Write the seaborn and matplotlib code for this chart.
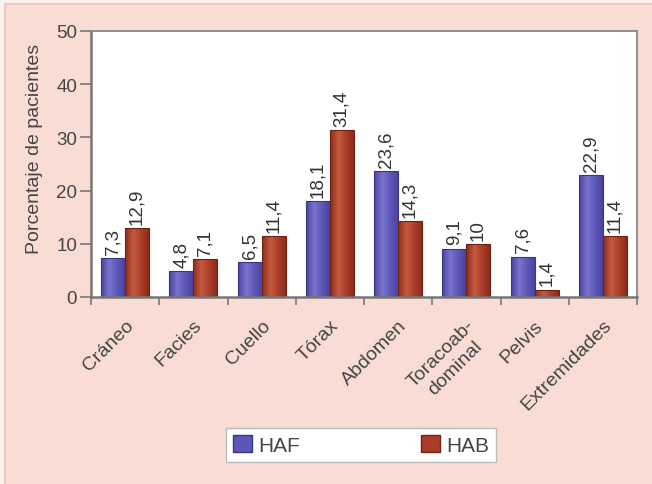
import matplotlib
matplotlib.use("Agg")
import matplotlib.pyplot as plt
import matplotlib.patches as mpatches
from matplotlib.colors import LinearSegmentedColormap
import numpy as np
import seaborn as sns
import pandas as pd

categorias = ["Cráneo", "Facies", "Cuello", "Tórax", "Abdomen",
              "Toracoab-\ndominal", "Pelvis", "Extremidades"]
haf = [7.3, 4.8, 6.5, 18.1, 23.6, 9.1, 7.6, 22.9]
hab = [12.9, 7.1, 11.4, 31.4, 14.3, 10.0, 1.4, 11.4]
series = ["HAF", "HAB"]
colores = {"HAF": "#5c56b8", "HAB": "#a93c28"}
bordes = {"HAF": "#3a3580", "HAB": "#6e2214"}
# Shading across each bar: darker edges, lighter centre
sombreado = {
    "HAF": ["#4a449f", "#7a74cf", "#5b55b6", "#4a449f"],
    "HAB": ["#8c2c1c", "#c45a3e", "#a93c28", "#8c2c1c"],
}

df = pd.DataFrame({
    "Región": categorias * 2,
    "Porcentaje": haf + hab,
    "Grupo": ["HAF"] * len(categorias) + ["HAB"] * len(categorias),
})

sns.set_theme(style="white")
plt.rcParams["font.family"] = ["Liberation Sans", "DejaVu Sans"]

texto = "#454545"
fondo = "#f9ddd5"
fig = plt.figure(figsize=(6.52, 4.85), dpi=100, facecolor="#fbf1ee")
fig.patches.append(mpatches.Rectangle((5 / 652, -0.02), 1.0, 1 - 5 / 485 + 0.02,
                                      transform=fig.transFigure, facecolor=fondo,
                                      edgecolor="#ecc8c0", linewidth=1.5, zorder=-1))

ax = fig.add_axes([91 / 652, 1 - 298 / 485, (637 - 91) / 652, (298 - 32) / 485])
ax.set_facecolor("white")

sns.barplot(data=df, x="Región", y="Porcentaje", hue="Grupo", hue_order=series,
            palette=colores, width=0.7, gap=0, saturation=1, ax=ax, legend=False)

ax.set_ylim(0, 50)
ax.set_xlim(-0.5, len(categorias) - 0.5)

gradiente = np.linspace(0, 1, 64).reshape(1, -1)
for cont, nombre in zip(ax.containers, series):
    cmap = LinearSegmentedColormap.from_list(nombre, list(zip([0, 0.35, 0.7, 1],
                                                             sombreado[nombre])))
    for barra in cont:
        barra.set_edgecolor(bordes[nombre])
        barra.set_linewidth(0.8)
        x0, y0 = barra.get_x(), barra.get_y()
        w, h = barra.get_width(), barra.get_height()
        img = ax.imshow(gradiente, cmap=cmap, aspect="auto",
                        extent=(x0, x0 + w, y0, y0 + h), zorder=barra.get_zorder(),
                        interpolation="bilinear")
        img.set_clip_path(barra)
        barra.set_facecolor("none")
        barra.set_zorder(barra.get_zorder() + 0.1)
    etiquetas = [f"{v:g}".replace(".", ",") for v in cont.datavalues]
    ax.bar_label(cont, labels=etiquetas, rotation=90, padding=3,
                 fontsize=13.5, color="#333333")

ax.set_ylim(0, 50)
ax.set_xlim(-0.5, len(categorias) - 0.5)
ax.set_yticks(range(0, 51, 10))
ax.tick_params(axis="y", length=8, width=1.2, color="#777777", labelsize=13.5,
               labelcolor=texto, pad=2, left=True)
ax.set_xticks([i - 0.5 for i in range(len(categorias) + 1)], minor=False)
ax.set_xticklabels([])
ax.set_xticks(range(len(categorias)), minor=True)
ax.set_xticklabels(categorias, minor=True, rotation=45, ha="right",
                   rotation_mode="anchor", fontsize=14, color=texto,
                   multialignment="center")
ax.tick_params(axis="x", which="major", length=6, width=1.2, color="#777777",
               bottom=True)
ax.tick_params(axis="x", which="minor", length=0, pad=14)

ax.set_xlabel("")
ax.set_ylabel("Porcentaje de pacientes", fontsize=14, color=texto)
ax.yaxis.set_label_coords(-0.088, 0.56)

for lado in ["left", "bottom"]:
    ax.spines[lado].set_color("#777777")
    ax.spines[lado].set_linewidth(1.8)
for lado in ["top", "right"]:
    ax.spines[lado].set_color("#888888")
    ax.spines[lado].set_linewidth(1.3)

manejadores = [mpatches.Patch(facecolor=colores[s], edgecolor=bordes[s], label=s)
               for s in series]
fig.legend(handles=manejadores, loc="center", bbox_to_anchor=(361 / 652, 1 - 446 / 485),
           ncol=2, frameon=True, fancybox=False, edgecolor="#bbbbbb",
           facecolor="white", framealpha=1, fontsize=15, columnspacing=5.8,
           handlelength=0.9, handleheight=0.9, handletextpad=0.3, borderpad=0.35,
           borderaxespad=0, labelcolor=texto)

fig.savefig("out.png", dpi=100, facecolor=fig.get_facecolor())
